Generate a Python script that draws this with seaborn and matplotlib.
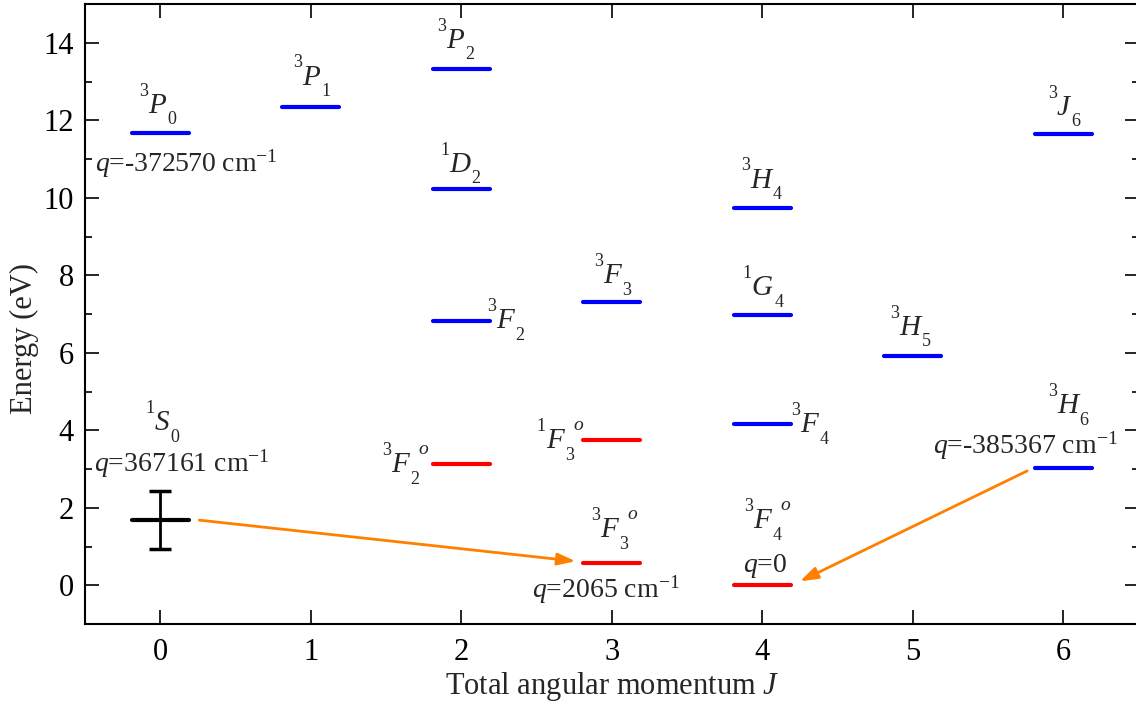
import matplotlib
matplotlib.use("Agg")
import matplotlib.pyplot as plt
import seaborn as sns
import pandas as pd

# ---- data ----
level_names = ["3P0", "3P1", "3P2", "1D2", "3F2", "3F2o", "3F3", "1F3o", "3F3o",
               "3H4", "1G4", "3F4", "3F4o", "3H5", "3J6", "3H6", "1S0"]
level_J = [0, 1, 2, 2, 2, 2, 3, 3, 3, 4, 4, 4, 4, 5, 6, 6, 0]
level_E = [11.68, 12.35, 13.33, 10.23, 6.82, 3.13, 7.31, 3.75, 0.57,
           9.74, 6.98, 4.16, 0.00, 5.92, 11.65, 3.02, 1.68]
level_kind = ["even", "even", "even", "even", "even", "odd", "even", "odd", "odd",
              "even", "even", "even", "odd", "even", "even", "even", "ref"]
s0_err = 0.74

# term symbol pieces: multiplicity, letter, J subscript
term_mult = ["3", "3", "3", "1", "3", "3", "3", "1", "3", "3", "1", "3", "3", "3", "3", "3", "1"]
term_letter = ["P", "P", "P", "D", "F", "F", "F", "F", "F", "H", "G", "F", "F", "H", "J", "H", "S"]
term_sub = ["0", "1", "2", "2", "2", "2", "3", "3", "3", "4", "4", "4", "4", "5", "6", "6", "0"]
# position of the main letter (centre x, baseline y) in data coords
term_x = [-0.02, 1.00, 1.96, 1.99, 2.29, 1.59, 3.00, 2.62, 2.98, 3.99, 4.00, 4.31,
          4.00, 4.98, 6.00, 6.03, 0.01]
term_y = [12.19, 12.92, 13.87, 10.67, 6.64, 2.92, 7.80, 3.54, 1.24, 10.26, 7.49, 3.95,
          1.47, 6.46, 12.14, 4.44, 4.00]

q_texts = [r"$q$=-372570 cm$^{-1}$", r"$q$=367161 cm$^{-1}$", r"$q$=2065 cm$^{-1}$",
           r"$q$=0", r"$q$=-385367 cm$^{-1}$"]
q_x = [0.17, 0.14, 2.96, 4.02, 5.75]
q_y = [10.67, 2.92, -0.31, 0.34, 3.41]

arrow_from_x = [0.26, 5.76]
arrow_from_y = [1.68, 2.95]
arrow_to_x = [2.76, 4.25]
arrow_to_y = [0.62, 0.10]

half_w = 0.19

# ---- style ----
sns.set_theme(style="ticks")
plt.rcParams["font.family"] = ["Liberation Serif", "DejaVu Serif"]
plt.rcParams["mathtext.fontset"] = "custom"
plt.rcParams["mathtext.rm"] = "Liberation Serif"
plt.rcParams["mathtext.it"] = "Liberation Serif:italic"
plt.rcParams["mathtext.bf"] = "Liberation Serif:bold"

fig = plt.figure(figsize=(11.36, 7.04), dpi=100)
ax = fig.add_axes([85 / 1136, 1 - 624 / 704, 1053.5 / 1136, 620 / 704])

rows = []
for n, j, e, k in zip(level_names, level_J, level_E, level_kind):
    rows.append({"name": n, "x": j - half_w, "E": e, "kind": k})
    rows.append({"name": n, "x": j + half_w, "E": e, "kind": k})
df = pd.DataFrame(rows)

sns.lineplot(data=df, x="x", y="E", units="name", hue="kind", estimator=None,
             sort=False, palette={"even": "#0000ff", "odd": "#ff0000", "ref": "black"},
             linewidth=3.0, legend=False, ax=ax, solid_capstyle="round")

# error bar on the 1S0 reference point
i0 = level_names.index("1S0")
ax.errorbar([level_J[i0]], [level_E[i0]], yerr=[s0_err], fmt="none", ecolor="black",
            elinewidth=2, capsize=8, capthick=2.5)

LETTER_FS = 21
SMALL_FS = 13
for m, L, s, k, x, y in zip(term_mult, term_letter, term_sub, level_kind, term_x, term_y):
    letter = ax.text(x, y, L, ha="center", va="baseline", fontsize=LETTER_FS,
                     style="italic")
    ax.annotate(m, xy=(0, 1), xycoords=letter, xytext=(0, -2),
                textcoords="offset points", ha="right", va="baseline",
                fontsize=SMALL_FS)
    ax.annotate(s, xy=(1, 0), xycoords=letter, xytext=(1, -4),
                textcoords="offset points", ha="left", va="baseline",
                fontsize=SMALL_FS)
    if k == "odd":
        ax.annotate("o", xy=(1, 1), xycoords=letter, xytext=(7, -1.5),
                    textcoords="offset points", ha="left", va="baseline",
                    fontsize=SMALL_FS + 1, style="italic")

for t, x, y in zip(q_texts, q_x, q_y):
    ax.text(x, y, t, ha="center", va="baseline", fontsize=20)

for fx, fy, tx, ty in zip(arrow_from_x, arrow_from_y, arrow_to_x, arrow_to_y):
    ax.annotate("", xy=(tx, ty), xytext=(fx, fy),
                arrowprops=dict(arrowstyle="-|>,head_length=0.9,head_width=0.3",
                                color="#ff8000", lw=2, shrinkA=0, shrinkB=0))

ax.set_xlim(-0.5, 6.5)
ax.set_ylim(-1, 15)
ax.set_xticks(range(0, 7))
ax.set_yticks(range(0, 15, 2))
ax.set_yticks(range(-1, 16, 1), minor=True)
ax.tick_params(axis="both", which="both", direction="in", top=True, right=True,
               labelsize=22, color="black", labelcolor="black")
ax.tick_params(which="major", length=10, width=1.2)
ax.tick_params(which="minor", length=5, width=1.2)
ax.tick_params(axis="x", pad=10)
ax.tick_params(axis="y", pad=8)
for s in ax.spines.values():
    s.set_linewidth(1.5)
    s.set_color("black")

ax.set_xlabel(r"Total angular momentum $J$", fontsize=22, labelpad=2)
ax.set_ylabel("Energy (eV)", fontsize=22)
ax.yaxis.set_label_coords(-0.044, 0.461)

fig.savefig("out.png", dpi=100)
